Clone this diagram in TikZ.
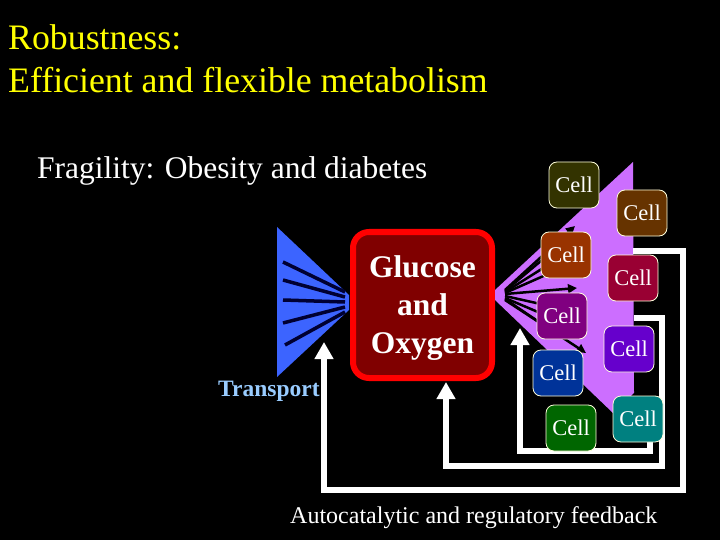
\documentclass[tikz,border=0pt]{standalone}
\usepackage{fontspec}
\setmainfont{Liberation Serif}
\usetikzlibrary{arrows.meta}
\definecolor{ttlyellow}{RGB}{255,255,0}
\definecolor{fanblue}{RGB}{60,100,255}
\definecolor{fanline}{RGB}{0,0,50}
\definecolor{fanpurple}{RGB}{204,110,255}
\definecolor{boxfill}{RGB}{128,0,0}
\definecolor{transblue}{RGB}{153,204,255}
\definecolor{cA}{RGB}{51,51,0}
\definecolor{cB}{RGB}{102,51,0}
\definecolor{cC}{RGB}{153,51,0}
\definecolor{cD}{RGB}{153,0,51}
\definecolor{cE}{RGB}{128,0,128}
\definecolor{cF}{RGB}{102,0,204}
\definecolor{cG}{RGB}{0,51,153}
\definecolor{cH}{RGB}{0,102,0}
\definecolor{cI}{RGB}{0,128,128}
\definecolor{cellborder}{RGB}{255,255,220}
\begin{document}
\begin{tikzpicture}[x=1pt,y=-1pt,
  cellbox/.style={draw=cellborder, line width=0.8pt, rounded corners=8pt,
    minimum width=50pt, minimum height=46pt, inner sep=0pt, text=white,
    font=\fontsize{22.5}{24}\selectfont},
  fb/.style={draw=white, line width=6pt, line join=miter,
    -{Triangle[length=17pt,width=18pt]}},
  fanl/.style={draw=fanline, line width=3.5pt},
  pl/.style={draw=black, line width=2.5pt},
  pla/.style={draw=black, line width=2.5pt, -{Triangle[length=9pt,width=9pt]}},
  txt/.style={inner sep=0pt, anchor=base west}
]
\useasboundingbox (0,0) rectangle (720,540);
\fill[black] (0,0) rectangle (720,540);

% titles
\node[txt, text=ttlyellow, font=\fontsize{35.8}{40}\selectfont] (t1) at (8,50) {Robustness:};
\node[txt, text=ttlyellow, font=\fontsize{35.8}{40}\selectfont] (t2) at (8,93) {Efficient and flexible metabolism};
\node[txt, text=white, font=\fontsize{31.5}{34}\selectfont] (t3) at (37,179) {Fragility: Obesity and diabetes};

% blue fan
\fill[fanblue] (277,227) -- (349,295) -- (349,310) -- (277,377) -- cycle;
\draw[fanl] (283,262) -- (345,292);
\draw[fanl] (283,280) -- (345,297);
\draw[fanl] (283,300) -- (345,302);
\draw[fanl] (283,323) -- (345,307);
\draw[fanl] (285,345) -- (345,312);

% glucose box
\node[draw=red, line width=6pt, fill=boxfill, rounded corners=16pt,
  minimum width=139pt, minimum height=146pt, inner sep=0pt] (glu) at (422.5,305) {};
\node[text=white, align=center, inner sep=0pt,
  font=\bfseries\fontsize{31.5}{38}\selectfont] (glut) at (422.5,308) {Glucose\\and\\Oxygen};

% purple fan
\fill[fanpurple] (633,162) -- (634,393) -- (613,413) -- (495,300) -- (495,290) -- cycle;
\draw[pla] (505,290) -- (575,226);
\draw[pl] (505,291) -- (548,255);
\draw[pl] (505,292) -- (548,265);
\draw[pl] (505,293) -- (548,274);
\draw[pla] (505,294) -- (577,288);
\draw[pl] (505,296) -- (545,305);
\draw[pl] (505,298) -- (545,315);
\draw[pl] (505,299) -- (545,326);
\draw[pla] (505,300) -- (586,353);

% feedback loops
\coordinate (os) at (633,251);
\coordinate (otip) at (324,342);
\coordinate (ms) at (634,318);
\coordinate (mtip) at (446,382);
\coordinate (is) at (650,442);
\coordinate (itip) at (520,328);
\draw[fb] (os) -| (683,490) -| (otip);
\draw[fb] (ms) -| (662,466) -| (mtip);
\draw[fb] (is) -- (650,451) -| (itip);

% cells
\node[cellbox, fill=cA] (c1) at (574,185) {Cell};
\node[cellbox, fill=cB] (c2) at (642,213) {Cell};
\node[cellbox, fill=cC] (c3) at (566,255) {Cell};
\node[cellbox, fill=cD] (c4) at (633,278) {Cell};
\node[cellbox, fill=cE] (c5) at (562,316) {Cell};
\node[cellbox, fill=cF] (c6) at (629,349) {Cell};
\node[cellbox, fill=cG] (c7) at (558,373) {Cell};
\node[cellbox, fill=cH] (c8) at (571,428) {Cell};
\node[cellbox, fill=cI] (c9) at (638,419) {Cell};

% labels
\node[txt, text=transblue, font=\bfseries\fontsize{23.5}{25}\selectfont] (tr) at (218,396) {Transport};
\node[txt, text=white, font=\fontsize{24}{28}\selectfont] (fbl) at (290,523) {Autocatalytic and regulatory feedback};
\end{tikzpicture}
\end{document}
